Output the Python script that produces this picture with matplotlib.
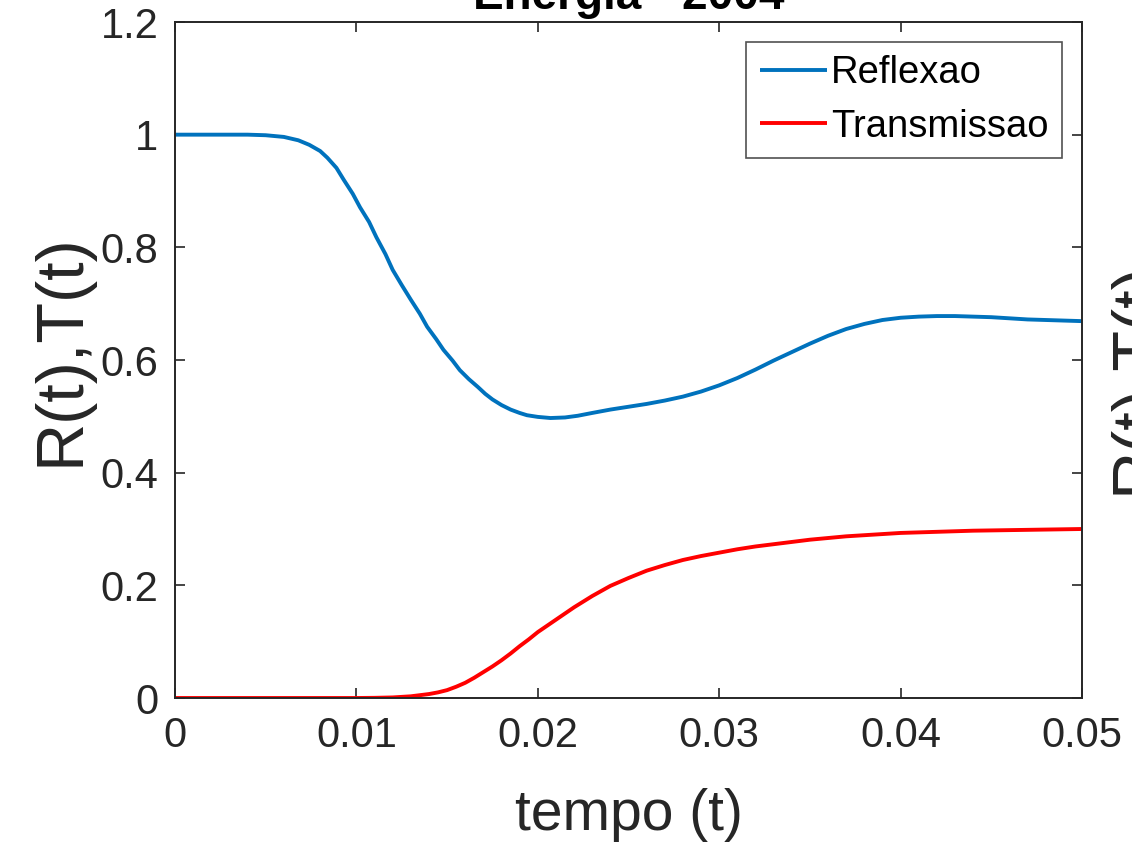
import matplotlib
matplotlib.use("Agg")
import matplotlib.pyplot as plt
from matplotlib import font_manager

# ---------------- data ----------------
t_refl = [0, 0.002, 0.004, 0.005, 0.006, 0.0068, 0.0074, 0.0080, 0.0084, 0.0089,
          0.0093, 0.0098, 0.0102, 0.0107, 0.0111, 0.0116, 0.0120, 0.0125, 0.0130,
          0.0135, 0.0139, 0.0144, 0.0148, 0.0153, 0.0157, 0.0162, 0.0167, 0.0171,
          0.0175, 0.0180, 0.0185, 0.0190, 0.0194, 0.0200, 0.0207, 0.0215, 0.0222,
          0.0230, 0.0240, 0.0250, 0.0260, 0.0270, 0.0280, 0.0290, 0.0300, 0.0310,
          0.0320, 0.0330, 0.0340, 0.0350, 0.0360, 0.0370, 0.0380, 0.0390, 0.0400,
          0.0410, 0.0420, 0.0430, 0.0440, 0.0450, 0.0460, 0.0470, 0.0480, 0.0490,
          0.0500]
reflexao = [1.0, 1.0, 1.0, 0.999, 0.996, 0.990, 0.982, 0.971, 0.959, 0.941,
            0.920, 0.895, 0.871, 0.845, 0.818, 0.788, 0.760, 0.733, 0.707,
            0.682, 0.659, 0.637, 0.618, 0.599, 0.582, 0.566, 0.552, 0.540,
            0.530, 0.520, 0.512, 0.506, 0.502, 0.499, 0.497, 0.498, 0.501,
            0.506, 0.512, 0.517, 0.522, 0.528, 0.535, 0.544, 0.555, 0.568,
            0.583, 0.599, 0.614, 0.629, 0.643, 0.655, 0.664, 0.671, 0.675,
            0.677, 0.678, 0.678, 0.677, 0.676, 0.674, 0.672, 0.671, 0.670,
            0.669]

t_trans = [0, 0.010, 0.011, 0.012, 0.0125, 0.013, 0.0135, 0.014, 0.0145, 0.015,
           0.0155, 0.016, 0.0165, 0.017, 0.0175, 0.018, 0.0185, 0.019, 0.0195,
           0.020, 0.0205, 0.021, 0.0215, 0.022, 0.0225, 0.023, 0.0235, 0.024,
           0.025, 0.026, 0.027, 0.028, 0.029, 0.030, 0.031, 0.032, 0.033, 0.034,
           0.035, 0.036, 0.037, 0.038, 0.039, 0.040, 0.042, 0.044, 0.046, 0.048,
           0.050]
transmissao = [0, 0, 0.0003, 0.001, 0.002, 0.003, 0.005, 0.007, 0.010, 0.014,
               0.020, 0.027, 0.036, 0.046, 0.056, 0.067, 0.079, 0.092, 0.104,
               0.117, 0.128, 0.139, 0.150, 0.161, 0.171, 0.181, 0.190, 0.199,
               0.213, 0.226, 0.236, 0.245, 0.252, 0.258, 0.264, 0.269, 0.273, 0.277,
               0.281, 0.284, 0.287, 0.289, 0.291, 0.293, 0.295, 0.297, 0.298, 0.299,
               0.300]

x_ticks = [0, 0.01, 0.02, 0.03, 0.04, 0.05]
x_ticklabels = ["0", "0.01", "0.02", "0.03", "0.04", "0.05"]
y_ticks = [0, 0.2, 0.4, 0.6, 0.8, 1.0, 1.2]
y_ticklabels = ["0", "0.2", "0.4", "0.6", "0.8", "1", "1.2"]

title_text = "Energia - 2004"
xlabel_text = "tempo (t)"
ylabel_text = "R(t),T(t)"
legend_labels = ["Reflexao", "Transmissao"]

# ---------------- style ----------------
names = {f.name for f in font_manager.fontManager.ttflist}
base = ["Liberation Sans", "Arial", "DejaVu Sans"]
has_narrow = "Liberation Sans Narrow" in names
narrow = (["Liberation Sans Narrow"] + base) if has_narrow else base
ylab_size = 56 if has_narrow else 48
plt.rcParams["font.family"] = base
ink = "#262626"

W, H = 1132, 842
fig = plt.figure(figsize=(W / 100, H / 100), dpi=100)
L, R_, T_, B = 175, 1082, 22, 698
ax = fig.add_axes([L / W, 1 - B / H, (R_ - L) / W, (B - T_) / H])

ax.plot(t_refl, reflexao, color="#0072BD", lw=2.8, label=legend_labels[0],
        solid_capstyle="butt", solid_joinstyle="round")
ax.plot(t_trans, transmissao, color="#FF0000", lw=2.8, label=legend_labels[1],
        solid_capstyle="butt", solid_joinstyle="round")

ax.set_xlim(0, 0.05)
ax.set_ylim(0, 1.2)
ax.set_xticks(x_ticks)
ax.set_xticklabels(x_ticklabels)
ax.set_yticks(y_ticks)
ax.set_yticklabels(y_ticklabels)

for s in ax.spines.values():
    s.set_color(ink)
    s.set_linewidth(1.4)
ax.tick_params(direction="in", length=7, width=1.2, colors=ink, labelsize=30,
               top=True, right=True)
ax.tick_params(axis="x", pad=13)
ax.tick_params(axis="y", pad=12)

ax.set_xlabel(xlabel_text, fontsize=41, color=ink, labelpad=23)
ax.set_ylabel(ylabel_text, fontsize=ylab_size, family=narrow, color=ink)
ax.yaxis.set_label_coords(61 / W, 1 - 350 / H, transform=fig.transFigure)
ax.yaxis.label.set_verticalalignment("center")
ax.yaxis.label.set_horizontalalignment("center")
ax.set_title(title_text, fontsize=33, fontweight="bold", color="black", pad=9.5)

leg = ax.legend(loc="upper right", bbox_to_anchor=(1062 / W, 1 - 42 / H),
                bbox_transform=fig.transFigure, borderaxespad=0, fontsize=27.5,
                handlelength=1.75, handletextpad=0.12, labelspacing=0.45,
                borderpad=0.35, frameon=True, fancybox=False)
leg.get_frame().set_edgecolor(ink)
leg.get_frame().set_linewidth(1.2)
for txt in leg.get_texts():
    txt.set_color("black")
for ln in leg.get_lines():
    ln.set_linewidth(2.8)

# neighbouring subplot's y label, cut by the figure edge
fig.text(1106 / W, 1 - 378 / H, ylabel_text, rotation=90, ha="left", va="center",
         fontsize=ylab_size, family=narrow, color=ink)

fig.savefig("out.png", dpi=100, facecolor="white")
